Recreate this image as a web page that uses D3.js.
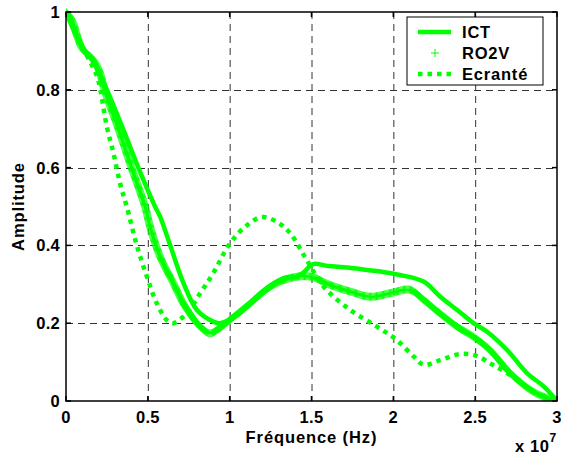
<!DOCTYPE html>
<html>
<head>
<meta charset="utf-8">
<script src="https://cdn.jsdelivr.net/npm/d3@7"></script>
<style>
  body { margin: 0; background: #fff; }
  text { font-family: 'Liberation Sans', Arial, sans-serif; font-weight: bold; }
</style>
</head>
<body>
<svg id="chart" width="561" height="457"></svg>
<script>
'use strict'

// frequency in units of 1e7 Hz
var xTicks = [0, 0.5, 1, 1.5, 2, 2.5, 3]
var yTicks = [0, 0.2, 0.4, 0.6, 0.8, 1]
var seriesNames = ['ICT', 'RO2V', 'Ecranté']

var ictX = [0, 0.05, 0.1, 0.17, 0.25, 0.351, 0.442, 0.544, 0.575, 0.636, 0.718, 0.8, 0.9, 0.94, 1.064, 1.187, 1.33, 1.41, 1.45, 1.51, 1.6, 1.717, 1.84, 1.92, 2.04, 2.185, 2.287, 2.39, 2.49, 2.573, 2.695, 2.818, 2.92, 3]
var ictY = [1, 0.95, 0.91, 0.87, 0.8, 0.697, 0.6, 0.5, 0.474, 0.401, 0.303, 0.234, 0.204, 0.2, 0.226, 0.277, 0.316, 0.32, 0.33, 0.352, 0.347, 0.343, 0.337, 0.333, 0.324, 0.307, 0.268, 0.234, 0.2, 0.178, 0.131, 0.071, 0.037, 0]

var ro2vX = [0, 0.035, 0.075, 0.1, 0.167, 0.208, 0.235, 0.32, 0.4, 0.483, 0.514, 0.575, 0.656, 0.728, 0.82, 0.88, 0.93, 1.0, 1.125, 1.25, 1.37, 1.49, 1.615, 1.74, 1.86, 1.98, 2.1, 2.185, 2.27, 2.39, 2.49, 2.59, 2.716, 2.84, 2.94, 3]
var ro2vY = [1, 0.98, 0.93, 0.905, 0.877, 0.843, 0.8, 0.7, 0.6, 0.5, 0.448, 0.371, 0.303, 0.243, 0.191, 0.174, 0.185, 0.208, 0.251, 0.294, 0.316, 0.32, 0.298, 0.281, 0.268, 0.277, 0.286, 0.26, 0.23, 0.191, 0.165, 0.131, 0.071, 0.028, 0.007, 0]

var ecrX = [0, 0.05, 0.1, 0.15, 0.19, 0.21, 0.249, 0.29, 0.33, 0.371, 0.432, 0.494, 0.555, 0.616, 0.656, 0.738, 0.82, 0.9, 1.0, 1.1, 1.197, 1.29, 1.37, 1.47, 1.574, 1.737, 1.9, 2.02, 2.125, 2.185, 2.287, 2.41, 2.51, 2.59, 2.63, 2.72, 2.82, 2.92, 3]
var ecrY = [1, 0.96, 0.91, 0.87, 0.834, 0.8, 0.706, 0.637, 0.56, 0.5, 0.401, 0.32, 0.251, 0.208, 0.2, 0.226, 0.277, 0.329, 0.404, 0.45, 0.473, 0.46, 0.431, 0.363, 0.294, 0.234, 0.191, 0.157, 0.114, 0.093, 0.105, 0.121, 0.116, 0.097, 0.088, 0.065, 0.035, 0.01, 0]

var green = '#00ff00'
var margin = { left: 66, right: 4, top: 12, bottom: 56 }
var width = 561
var height = 457
var svg = d3.select('#chart')

var x = d3.scaleLinear().domain([0, 3]).range([margin.left, width - margin.right])
var y = d3.scaleLinear().domain([0, 1]).range([height - margin.bottom, margin.top])

var zip = (xs, ys) => xs.map((v, i) => [v, ys[i]])
var line = d3.line()
  .x((d) => x(d[0]))
  .y((d) => y(d[1]))
  .curve(d3.curveCatmullRom.alpha(0.5))

svg.append('clipPath').attr('id', 'clip')
  .append('rect')
  .attr('x', x(0)).attr('y', y(1) - 4)
  .attr('width', x(3) - x(0)).attr('height', y(0) - y(1) + 4)

// grid
var grid = svg.append('g')
  .attr('stroke', '#333')
  .attr('stroke-width', 1)
  .attr('stroke-dasharray', '7,5')
grid.selectAll('.gx').data(xTicks.slice(1, -1)).enter().append('line')
  .attr('x1', (d) => x(d) + 0.5).attr('x2', (d) => x(d) + 0.5)
  .attr('y1', y(1)).attr('y2', y(0))
grid.selectAll('.gy').data(yTicks.slice(1, -1)).enter().append('line')
  .attr('y1', (d) => Math.round(y(d)) + 0.5).attr('y2', (d) => Math.round(y(d)) + 0.5)
  .attr('x1', x(0)).attr('x2', x(3))

var plot = svg.append('g').attr('clip-path', 'url(#clip)')

// Ecranté, thick dotted
plot.append('path')
  .attr('d', line(zip(ecrX, ecrY)))
  .attr('fill', 'none')
  .attr('stroke', green)
  .attr('stroke-width', 4.5)
  .attr('stroke-dasharray', '4.5,5')

// RO2V, dense plus markers along the curve
var ro2vPath = plot.append('path')
  .attr('d', line(zip(ro2vX, ro2vY)))
  .attr('fill', 'none')
  .attr('stroke', 'none')
var node = ro2vPath.node()
var total = node.getTotalLength()
var pts = d3.range(0, total, 1.2).map((l) => node.getPointAtLength(l))
var s = 4
plot.append('path')
  .attr('d', pts.map((p) => 'M' + (p.x - s) + ',' + p.y + 'h' + 2 * s + 'M' + p.x + ',' + (p.y - s) + 'v' + 2 * s).join(''))
  .attr('stroke', green)
  .attr('stroke-width', 1)
  .attr('fill', 'none')

// ICT, thick solid
plot.append('path')
  .attr('d', line(zip(ictX, ictY)))
  .attr('fill', 'none')
  .attr('stroke', green)
  .attr('stroke-width', 4.5)
  .attr('stroke-linejoin', 'round')

// frame and ticks
var frame = svg.append('g').attr('stroke', '#000').attr('stroke-width', 1.5).attr('fill', 'none')
frame.append('rect')
  .attr('x', x(0)).attr('y', y(1))
  .attr('width', x(3) - x(0)).attr('height', y(0) - y(1))
xTicks.forEach((t) => {
  frame.append('line').attr('x1', x(t)).attr('x2', x(t)).attr('y1', y(0)).attr('y2', y(0) - 5)
  frame.append('line').attr('x1', x(t)).attr('x2', x(t)).attr('y1', y(1)).attr('y2', y(1) + 5)
})
yTicks.forEach((t) => {
  frame.append('line').attr('y1', y(t)).attr('y2', y(t)).attr('x1', x(0)).attr('x2', x(0) + 5)
  frame.append('line').attr('y1', y(t)).attr('y2', y(t)).attr('x1', x(3)).attr('x2', x(3) - 5)
})

// tick labels
svg.selectAll('.xl').data(xTicks).enter().append('text')
  .attr('x', (d) => x(d)).attr('y', y(0) + 22)
  .attr('text-anchor', 'middle')
  .attr('font-size', 16.5)
  .attr('letter-spacing', 0.3)
  .text((d) => d3.format('')(d))
svg.selectAll('.yl').data(yTicks).enter().append('text')
  .attr('x', x(0) - 6).attr('y', (d) => y(d) + 6)
  .attr('text-anchor', 'end')
  .attr('font-size', 16.5)
  .attr('letter-spacing', 0.3)
  .text((d) => d3.format('')(d))

// axis labels
svg.append('text')
  .attr('x', (x(0) + x(3)) / 2).attr('y', 443)
  .attr('text-anchor', 'middle').attr('font-size', 16.5)
  .attr('letter-spacing', 0.9)
  .text('Fréquence (Hz)')
svg.append('text')
  .attr('transform', 'translate(24,' + (y(0) + y(1)) / 2 + ') rotate(-90)')
  .attr('text-anchor', 'middle').attr('font-size', 16.5)
  .attr('letter-spacing', 0.9)
  .text('Amplitude')
var expo = svg.append('text').attr('x', 515).attr('y', 452).attr('font-size', 16.5).attr('letter-spacing', 0.6)
expo.append('tspan').text('x 10')
expo.append('tspan').attr('dy', -10).attr('font-size', 12).text('7')

// legend
var lg = svg.append('g').attr('transform', 'translate(407,17)')
lg.append('rect').attr('width', 136).attr('height', 68)
  .attr('fill', '#fff').attr('stroke', '#000').attr('stroke-width', 1)
var rowY = [15, 36, 57]
seriesNames.forEach((name, i) => {
  lg.append('text').attr('x', 55).attr('y', rowY[i] + 6).attr('font-size', 16.5)
    .attr('letter-spacing', 0.8).text(name)
})
lg.append('line').attr('x1', 11).attr('x2', 44).attr('y1', rowY[0]).attr('y2', rowY[0])
  .attr('stroke', green).attr('stroke-width', 4.5)
lg.append('path').attr('d', 'M24,' + rowY[1] + 'h8M28,' + (rowY[1] - 4) + 'v8')
  .attr('stroke', green).attr('stroke-width', 1)
lg.append('line').attr('x1', 11).attr('x2', 44).attr('y1', rowY[2]).attr('y2', rowY[2])
  .attr('stroke', green).attr('stroke-width', 4.5).attr('stroke-dasharray', '4.5,5')
</script>
</body>
</html>
